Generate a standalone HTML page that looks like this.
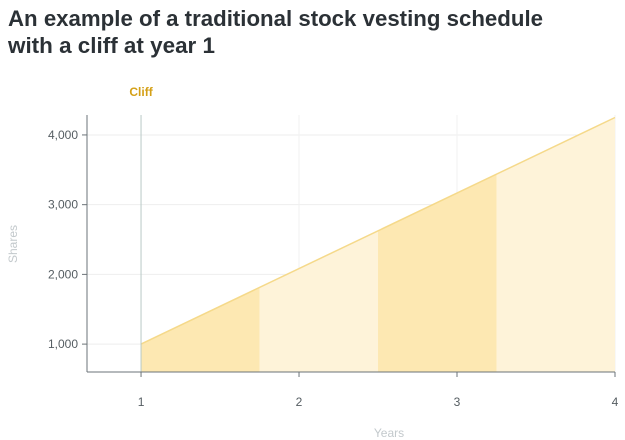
<!DOCTYPE html>
<html><head><meta charset="utf-8"><style>
body{margin:0;background:#fff;}
svg{display:block;font-family:"Liberation Sans",sans-serif;}
</style></head><body>
<svg width="625" height="440">
<text x="8" y="26" font-size="22" font-weight="bold" fill="#2b3136" textLength="535" lengthAdjust="spacingAndGlyphs">An example of a traditional stock vesting schedule</text>
<text x="8" y="53" font-size="22" font-weight="bold" fill="#2b3136" textLength="207" lengthAdjust="spacingAndGlyphs">with a cliff at year 1</text>
<g id="plot"></g>
</svg>
<script>
const bandStarts=[1,1.75,2.5,3.25];
const bandEnds=[1.75,2.5,3.25,4];
const lineYears=[1,4];
const lineShares=[1000,4250];
const xTicks=[1,2,3,4];
const yTicks=[1000,2000,3000,4000];
const yTickLabels=["1,000","2,000","3,000","4,000"];
const cliffYear=1;
const X0=87,X1=615,Y0=372,Y1=115,xMin=0.658,xMax=4,yMin=600,yMax=4286;
const sx=v=>X0+(v-xMin)/(xMax-xMin)*(X1-X0);
const sy=v=>Y0-(v-yMin)/(yMax-yMin)*(Y0-Y1);
const g=document.getElementById('plot');
const NS='http://www.w3.org/2000/svg';
function mk(t,a){const e=document.createElementNS(NS,t);for(const k in a)e.setAttribute(k,a[k]);g.appendChild(e);return e;}
const lineAt=x=>lineShares[0]+(x-lineYears[0])/(lineYears[1]-lineYears[0])*(lineShares[1]-lineShares[0]);
yTicks.forEach((v,i)=>{
 const l=mk('line',{x1:X0,x2:X1,y1:sy(v),y2:sy(v),stroke:'#eeeeee'});
 
 
});
xTicks.forEach(v=>{
 if(v===cliffYear)return;
 const l=mk('line',{x1:sx(v),x2:sx(v),y1:Y1,y2:Y0,stroke:'#f1f1f1'});
 
 
});
bandStarts.forEach((s,i)=>{
 const e=bandEnds[i];
 const p=mk('polygon',{points:`${sx(s)},${Y0} ${sx(s)},${sy(lineAt(s))} ${sx(e)},${sy(lineAt(e))} ${sx(e)},${Y0}`,fill:i%2===0?'#fde8b2':'#fef3d9'});
 
 
});
const ln=mk('line',{x1:sx(lineYears[0]),y1:sy(lineShares[0]),x2:sx(lineYears[1]),y2:sy(lineShares[1]),stroke:'#f5d98a','stroke-width':1.5});


const cl=mk('line',{x1:sx(cliffYear),x2:sx(cliffYear),y1:Y1,y2:Y0,stroke:'#b8c9c6'});


const ct=mk('text',{x:sx(cliffYear),y:96,'text-anchor':'middle','font-size':12,'font-weight':'bold',fill:'#d4a017'});
ct.textContent='Cliff';


const ya=mk('line',{x1:X0,x2:X0,y1:Y1,y2:Y0,stroke:'#6b7378'});


const xa=mk('line',{x1:X0,x2:X1,y1:Y0,y2:Y0,stroke:'#6b7378'});


yTicks.forEach((v,i)=>{
 const t=mk('line',{x1:X0-5,x2:X0,y1:sy(v),y2:sy(v),stroke:'#6b7378'});
 
 
 const tx=mk('text',{x:X0-9,y:sy(v)+4,'text-anchor':'end','font-size':12,fill:'#555d62'});
 tx.textContent=yTickLabels[i];
 
 
});
xTicks.forEach(v=>{
 const t=mk('line',{x1:sx(v),x2:sx(v),y1:Y0,y2:Y0+5,stroke:'#6b7378'});
 
 
 const tx=mk('text',{x:sx(v),y:406,'text-anchor':'middle','font-size':12,fill:'#555d62'});
 tx.textContent=String(v);
 
 
});
const xt=mk('text',{x:389,y:437,'text-anchor':'middle','font-size':12,fill:'#c3c9cc'});
xt.textContent='Years';


const yt=mk('text',{x:0,y:0,'text-anchor':'middle','font-size':12,fill:'#c3c9cc',transform:'translate(17,244) rotate(-90)'});
yt.textContent='Shares';


</script>
</body></html>
